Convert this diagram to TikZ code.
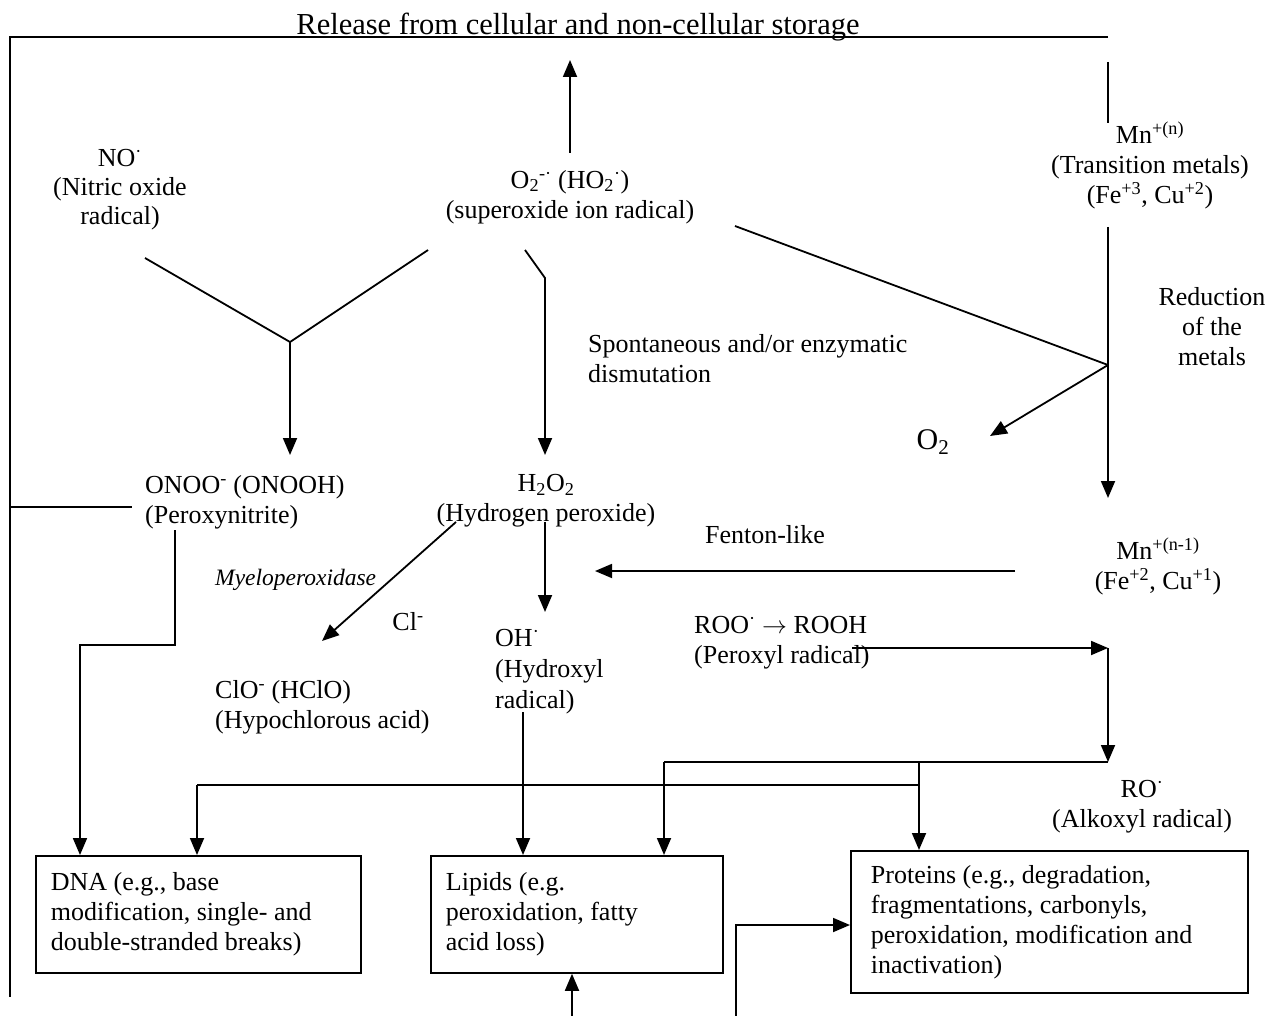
\documentclass[tikz,border=0pt]{standalone}
\usepackage{fontspec}
\setmainfont{Liberation Serif}
\usetikzlibrary{arrows.meta}
\frenchspacing
\begin{document}
\begin{tikzpicture}[x=1pt,y=-1pt,
  every node/.style={font=\fontsize{26}{30}\selectfont, inner sep=0pt},
  wire/.style={line width=1.8pt},
  arr/.style={wire,-{Triangle[length=17pt,width=14pt]}},
  lbl/.style={align=center},
  lbll/.style={align=left, anchor=west},
  box/.style={draw, line width=1.8pt, anchor=north west, align=flush left,
              inner xsep=15pt, inner ysep=0pt}
]
\useasboundingbox (0,0) rectangle (1269,1016);

% ---------- labels ----------
\node[font=\fontsize{30.5}{34}\selectfont, anchor=base] (title) at (578,35)
  {Release from cellular and non-cellular storage};
\node[lbl, font=\fontsize{26}{29}\selectfont] (no) at (120,190) {NO\textsuperscript{·}\\(Nitric oxide\\radical)};
\node[lbl] (sup) at (570,197)
  {O\textsubscript{2}\textsuperscript{-·} (HO\textsubscript{2}\textsuperscript{·})\\(superoxide ion radical)};
\node[lbl] (mn) at (1150,165)
  {Mn\textsuperscript{+(n)}\\(Transition metals)\\(Fe\textsuperscript{+3}, Cu\textsuperscript{+2})};
\node[lbl] (red) at (1212,327) {Reduction\\of the\\metals};
\node[lbll] (dism) at (588,359) {Spontaneous and/or enzymatic\\dismutation};
\node[font=\fontsize{30}{34}\selectfont] (o2) at (933,442) {O\textsubscript{2}};
\node[lbll] (onoo) at (145,502) {ONOO\textsuperscript{-} (ONOOH)\\(Peroxynitrite)};
\node[lbl] (h2o2) at (546,501) {H\textsubscript{2}O\textsubscript{2}\\(Hydrogen peroxide)};
\node[anchor=west, font=\fontsize{23.5}{28}\itshape] (mpo) at (215,580) {Myeloperoxidase};
\node (cl) at (408,622) {Cl\textsuperscript{-}};
\node (fenton) at (765,535) {Fenton-like};
\node[lbl] (mn2) at (1158,566)
  {Mn\textsuperscript{+(n-1)}\\(Fe\textsuperscript{+2}, Cu\textsuperscript{+1})};
\node[lbll, font=\fontsize{26}{31}\selectfont] (oh) at (495,672) {OH\textsuperscript{·}\\(Hydroxyl\\radical)};
\node[lbll] (clo) at (215,707) {ClO\textsuperscript{-} (HClO)\\(Hypochlorous acid)};
\node[lbll] (roo) at (694,643) {ROO\textsuperscript{·} $\rightarrow$ ROOH\\(Peroxyl radical)};
\node[lbl] (ro) at (1142,807) {RO\textsuperscript{·}\\(Alkoxyl radical)};

% ---------- target boxes ----------
\node[box, minimum width=325pt, minimum height=117pt, text width=295pt] (dna) at (35,855)
  {DNA (e.g., base\\modification, single- and\\double-stranded breaks)};
\node[box, minimum width=292pt, minimum height=117pt, text width=262pt] (lip) at (430,855)
  {Lipids (e.g.\\peroxidation, fatty\\acid loss)};
\node[box, inner xsep=20pt, minimum width=397pt, minimum height=142pt, text width=357pt] (pro) at (850,850)
  {Proteins (e.g., degradation,\\fragmentations, carbonyls,\\peroxidation, modification and\\inactivation)};

% ---------- connector points ----------
\coordinate (tl) at (10,37);
\coordinate (tr) at (1108,37);
\coordinate (bl) at (10,997);
\coordinate (stub) at (132,507);
\coordinate (sup-up) at (570,153);
\coordinate (rel) at (570,60);
\coordinate (mn-t1) at (1108,62);
\coordinate (mn-t2) at (1108,123);
\coordinate (mn-b) at (1108,227);
\coordinate (rd) at (1108,365);
\coordinate (mn2-t) at (1108,498);
\coordinate (sup-r) at (735,226);
\coordinate (o2-tip) at (990,436);
\coordinate (no-b) at (145,258);
\coordinate (sup-l) at (428,250);
\coordinate (yj) at (290,342);
\coordinate (onoo-t) at (290,455);
\coordinate (sup-b) at (525,250);
\coordinate (bend) at (545,278);
\coordinate (h2o2-t) at (545,455);
\coordinate (h2-l) at (456,522);
\coordinate (clo-t) at (322,641);
\coordinate (h2-b) at (545,522);
\coordinate (oh-t) at (545,612);
\coordinate (fen-r) at (1015,571);
\coordinate (fen-l) at (595,571);
\coordinate (onoo-b) at (175,530);
\coordinate (k1) at (175,645);
\coordinate (k2) at (80,645);
\coordinate (oh-b) at (523,712);
\coordinate (roo-r) at (852,648);
\coordinate (c1) at (1108,648);
\coordinate (c2) at (1108,762);
\coordinate (c3) at (664,762);
\coordinate (c4) at (919,762);
\coordinate (c5) at (919,785);
\coordinate (c6) at (197,785);
\coordinate (in1) at (572,1016);
\coordinate (in2) at (736,1016);
\coordinate (k3) at (736,925);

% ---------- connectors ----------
\draw[wire] (tr) -- (tl) -- (bl);
\draw[wire] (tl |- stub) -- (stub);
\draw[arr] (sup-up) -- (rel);
\draw[wire] (mn-t1) -- (mn-t2);
\draw[arr] (mn-b) -- (mn2-t);
\draw[wire] (sup-r) -- (rd);
\draw[arr] (rd) -- (o2-tip);
\draw[wire] (no-b) -- (yj) -- (sup-l);
\draw[arr] (yj) -- (onoo-t);
\draw[arr] (sup-b) -- (bend) -- (h2o2-t);
\draw[arr] (h2-l) -- (clo-t);
\draw[arr] (h2-b) -- (oh-t);
\draw[arr] (fen-r) -- (fen-l);
\draw[arr] (onoo-b) -- (k1) -- (k2) -- (k2 |- dna.north);
\draw[arr] (oh-b) -- (oh-b |- lip.north);
\draw[arr] (roo-r) -- (c1);
\draw[arr] (c1) -- (c2);
\draw[wire] (c2) -- (c3);
\draw[arr] (c3) -- (c3 |- lip.north);
\draw[arr] (c4) -- (c4 |- pro.north);
\draw[wire] (c5) -- (c6);
\draw[arr] (c6) -- (c6 |- dna.north);
\draw[arr] (in1) -- (in1 |- lip.south);
\draw[arr] (in2) -- (k3) -- (k3 -| pro.west);
\end{tikzpicture}
\end{document}
